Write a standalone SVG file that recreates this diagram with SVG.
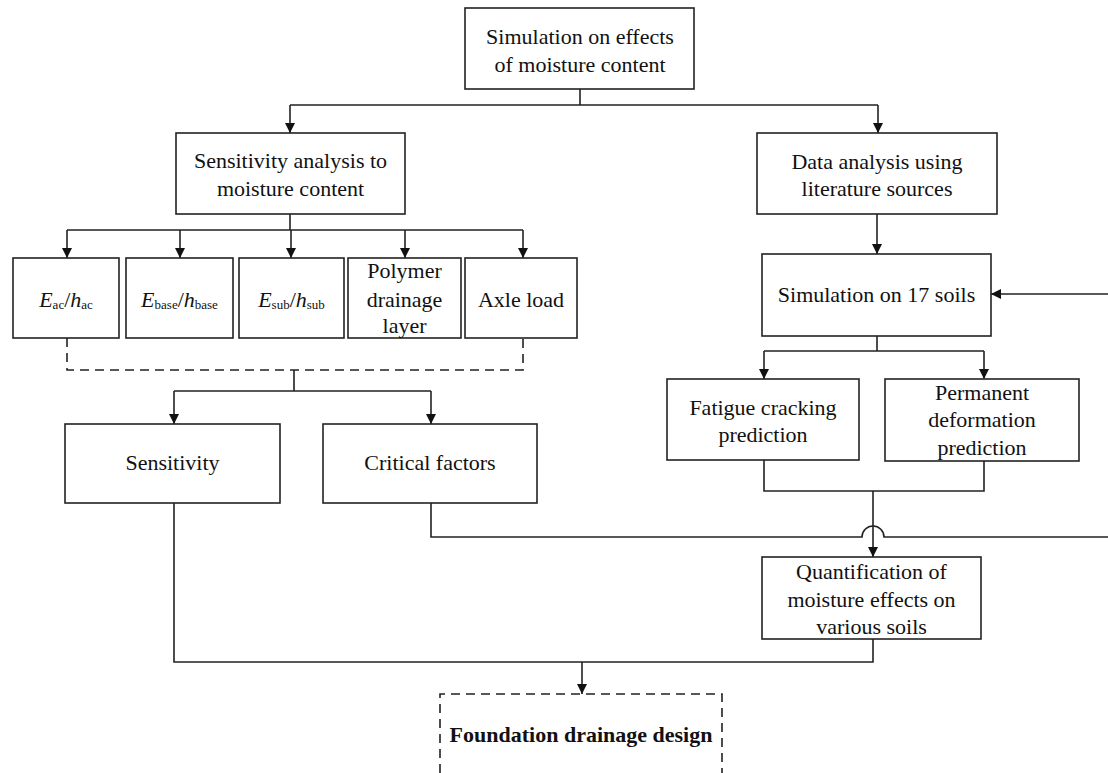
<svg xmlns="http://www.w3.org/2000/svg" width="1108" height="773" viewBox="0 0 1108 773">
  <defs>
    <marker id="arrow" viewBox="0 0 10 10" refX="10" refY="5" markerWidth="10" markerHeight="10" markerUnits="userSpaceOnUse" orient="auto">
      <path d="M0,0 L10,5 L0,10 z" fill="#111"/>
    </marker>
    <style>
      .box { fill: #fff; stroke: #222; stroke-width: 1.6; }
      .dash { fill: none; stroke: #222; stroke-width: 1.6; stroke-dasharray: 9 6; }
      .line { fill: none; stroke: #222; stroke-width: 1.6; }
      .arr { fill: none; stroke: #222; stroke-width: 1.6; marker-end: url(#arrow); }
      text { font-family: "Liberation Serif", "Times New Roman", serif; font-size: 22px; fill: #111; text-anchor: middle; }
      .b { font-weight: bold; }
      .it { font-style: italic; }
      .sub { font-size: 13px; }
    </style>
  </defs>

  <!-- connectors -->
  <g id="connectors">
    <path class="line" d="M580,89 V105 M290,105 H878"/>
    <path class="arr" d="M290,105 V133"/>
    <path class="arr" d="M878,105 V133"/>

    <path class="line" d="M290,214 V230 M67,230 H523"/>
    <path class="arr" d="M67,230 V258"/>
    <path class="arr" d="M180,230 V258"/>
    <path class="arr" d="M291,230 V258"/>
    <path class="arr" d="M405,230 V258"/>
    <path class="arr" d="M523,230 V258"/>

    <path class="dash" d="M67,338 V370 H523 V338"/>
    <path class="line" d="M294,370 V391 M174,391 H431"/>
    <path class="arr" d="M174,391 V424"/>
    <path class="arr" d="M431,391 V424"/>

    <path class="arr" d="M877,214 V254"/>
    <path class="arr" d="M1108,294 H991"/>
    <path class="line" d="M877,336 V351 M764,351 H984"/>
    <path class="arr" d="M764,351 V379"/>
    <path class="arr" d="M984,351 V379"/>

    <path class="line" d="M764,460 V491 H984 V460"/>
    <path class="arr" d="M873,491 V557"/>

    <!-- critical factors feedback line, hopping over the vertical connector -->
    <path class="line" d="M431,503 V537 H862 A11,11 0 0 1 884,537 H1108"/>

    <path class="line" d="M174,503 V662 H873 V639"/>
    <path class="arr" d="M582,662 V694"/>
  </g>

  <g id="n-top">
    <rect class="box" x="465" y="8" width="229" height="81"/>
    <text x="580" y="44">Simulation on effects</text>
    <text x="580" y="72">of moisture content</text>
  </g>

  <g id="n-sens-analysis">
    <rect class="box" x="176" y="133" width="229" height="81"/>
    <text x="290.5" y="168">Sensitivity analysis to</text>
    <text x="290.5" y="196">moisture content</text>
  </g>

  <g id="n-data">
    <rect class="box" x="757" y="133" width="240" height="81"/>
    <text x="877" y="169">Data analysis using</text>
    <text x="877" y="196">literature sources</text>
  </g>

  <g id="n-eac">
    <rect class="box" x="13" y="258" width="106" height="80"/>
    <text x="66" y="307"><tspan class="it">E</tspan><tspan class="sub" dy="2">ac</tspan><tspan dy="-2">/</tspan><tspan class="it">h</tspan><tspan class="sub" dy="2">ac</tspan></text>
  </g>

  <g id="n-ebase">
    <rect class="box" x="126" y="258" width="107" height="80"/>
    <text x="179.5" y="307"><tspan class="it">E</tspan><tspan class="sub" dy="2">base</tspan><tspan dy="-2">/</tspan><tspan class="it">h</tspan><tspan class="sub" dy="2">base</tspan></text>
  </g>

  <g id="n-esub">
    <rect class="box" x="239" y="258" width="105" height="80"/>
    <text x="291.5" y="307"><tspan class="it">E</tspan><tspan class="sub" dy="2">sub</tspan><tspan dy="-2">/</tspan><tspan class="it">h</tspan><tspan class="sub" dy="2">sub</tspan></text>
  </g>

  <g id="n-polymer">
    <rect class="box" x="348" y="258" width="113" height="80"/>
    <text x="404.5" y="278">Polymer</text>
    <text x="404.5" y="307">drainage</text>
    <text x="404.5" y="333">layer</text>
  </g>

  <g id="n-axle">
    <rect class="box" x="465" y="258" width="112" height="80"/>
    <text x="521" y="307">Axle load</text>
  </g>

  <g id="n-sim17">
    <rect class="box" x="762" y="254" width="229" height="82"/>
    <text x="876.5" y="302">Simulation on 17 soils</text>
  </g>

  <g id="n-fatigue">
    <rect class="box" x="667" y="379" width="192" height="81"/>
    <text x="763" y="415">Fatigue cracking</text>
    <text x="763" y="442">prediction</text>
  </g>

  <g id="n-permanent">
    <rect class="box" x="885" y="379" width="194" height="82"/>
    <text x="982" y="400">Permanent</text>
    <text x="982" y="427">deformation</text>
    <text x="982" y="455">prediction</text>
  </g>

  <g id="n-sensitivity">
    <rect class="box" x="65" y="424" width="215" height="79"/>
    <text x="172.5" y="470">Sensitivity</text>
  </g>

  <g id="n-critical">
    <rect class="box" x="323" y="424" width="214" height="79"/>
    <text x="430" y="470">Critical factors</text>
  </g>

  <g id="n-quant">
    <rect class="box" x="762" y="557" width="219" height="82"/>
    <text x="871.5" y="579">Quantification of</text>
    <text x="871.5" y="607">moisture effects on</text>
    <text x="871.5" y="634">various soils</text>
  </g>

  <g id="n-foundation">
    <path class="dash" d="M440,773 V694 H722 V773"/>
    <text class="b" x="581" y="742" font-size="20">Foundation drainage design</text>
  </g>
</svg>
